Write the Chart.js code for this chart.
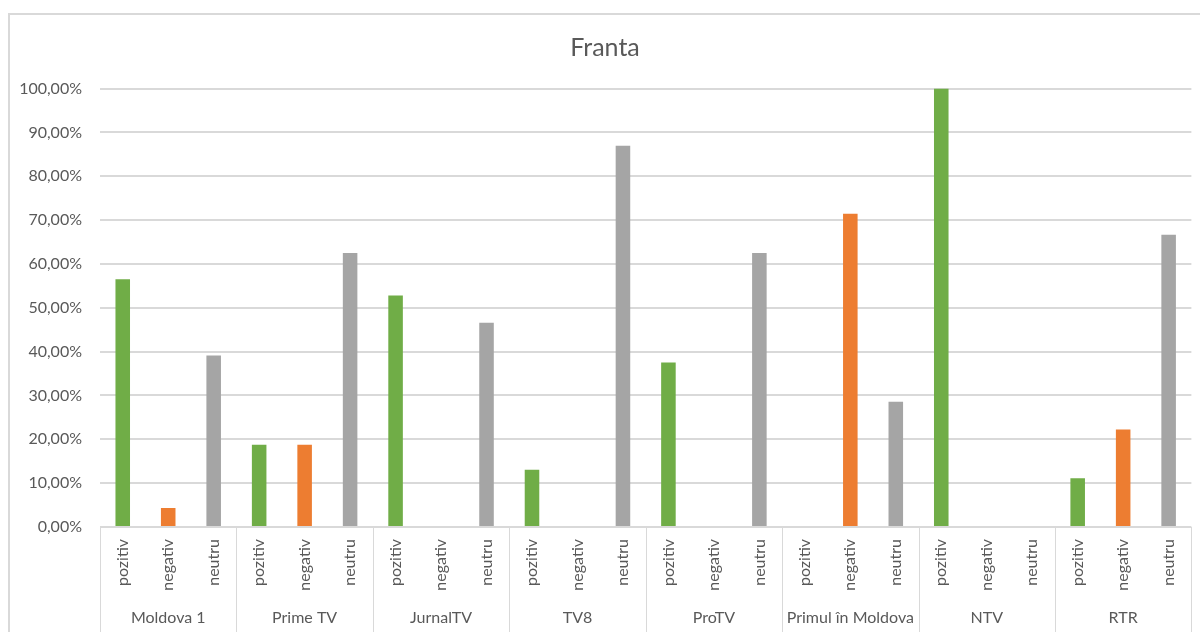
<!DOCTYPE html>
<html>
<head>
<meta charset="utf-8">
<script src="https://cdn.jsdelivr.net/npm/chart.js@4.4.1/dist/chart.umd.min.js"></script>
<style>
  body { margin: 0; background: #fff; }
  canvas { display: block; }
</style>
</head>
<body>
<canvas id="myChart" width="1200" height="632"></canvas>
<script>
const channels = ['Moldova 1', 'Prime TV', 'JurnalTV', 'TV8', 'ProTV', 'Primul în Moldova', 'NTV', 'RTR'];
const sentiments = ['pozitiv', 'negativ', 'neutru'];
const pozitiv = [56.52, 18.75, 52.8, 13.04, 37.5, 0, 100, 11.11];
const negativ = [4.35, 18.75, 0, 0, 0, 71.43, 0, 22.22];
const neutru = [39.13, 62.5, 46.6, 86.96, 62.5, 28.57, 0, 66.67];
const sentimentColors = ['#70AD47', '#ED7D31', '#A5A5A5'];

const textColor = '#595959';
const lineColor = '#D9D9D9';
const fontFamily = 'Lato, "Open Sans", sans-serif';

// flatten to one bar per channel/sentiment pair
const labels = [];
const values = [];
const colors = [];
const series = [pozitiv, negativ, neutru];
for (let c = 0; c < channels.length; c++) {
    for (let s = 0; s < sentiments.length; s++) {
        labels.push(sentiments[s]);
        values.push(series[s][c]);
        colors.push(sentimentColors[s]);
    }
}

const frame = {
    id: 'frame',
    beforeDraw(chart) {
        const ctx = chart.ctx;
        ctx.save();
        ctx.fillStyle = '#fff';
        ctx.fillRect(0, 0, chart.width, chart.height);
        ctx.strokeStyle = lineColor;
        ctx.lineWidth = 2;
        ctx.beginPath();
        ctx.moveTo(9, chart.height);
        ctx.lineTo(9, 14);
        ctx.lineTo(chart.width, 14);
        ctx.stroke();
        ctx.restore();
    }
};

const groups = {
    id: 'groups',
    afterDraw(chart) {
        const ctx = chart.ctx;
        const x = chart.scales.x;
        const step = x.getPixelForValue(1) - x.getPixelForValue(0);
        const n = sentiments.length;
        ctx.save();
        ctx.strokeStyle = lineColor;
        ctx.lineWidth = 1;
        for (let i = 0; i <= channels.length; i++) {
            const px = Math.round(x.getPixelForValue(i * n) - step / 2) + 0.5;
            ctx.beginPath();
            ctx.moveTo(px, x.top);
            ctx.lineTo(px, chart.height);
            ctx.stroke();
        }
        ctx.fillStyle = textColor;
        ctx.font = '16px ' + fontFamily;
        ctx.textAlign = 'center';
        ctx.textBaseline = 'middle';
        for (let i = 0; i < channels.length; i++) {
            ctx.fillText(channels[i], x.getPixelForValue(i * n + 1), 618);
        }
        ctx.restore();
    }
};

new Chart(document.getElementById('myChart'), {
    type: 'bar',
    data: {
        labels: labels,
        datasets: [{
            data: values,
            backgroundColor: colors,
            borderWidth: 0,
            barPercentage: 0.32,
            categoryPercentage: 1
        }]
    },
    options: {
        responsive: false,
        animation: false,
        layout: { padding: { left: 18, right: 8, top: 14, bottom: 0 } },
        plugins: {
            legend: { display: false },
            tooltip: { enabled: false },
            title: {
                display: true,
                text: 'Franta',
                color: textColor,
                font: { family: fontFamily, size: 25, weight: 'normal' },
                padding: { top: 19, bottom: 25.5 }
            }
        },
        scales: {
            x: {
                grid: { display: false, drawTicks: false },
                border: { display: false },
                ticks: {
                    color: textColor,
                    font: { family: fontFamily, size: 16 },
                    minRotation: 90,
                    maxRotation: 90,
                    autoSkip: false,
                    padding: 12
                },
                afterFit(scale) { scale.height = 105; }
            },
            y: {
                min: 0,
                max: 100,
                grid: { color: lineColor, lineWidth: 2, drawTicks: false },
                border: { display: false },
                ticks: {
                    stepSize: 10,
                    color: textColor,
                    font: { family: fontFamily, size: 16 },
                    padding: 18,
                    callback: v => v.toFixed(2).replace('.', ',') + '%'
                },
                afterFit(scale) { scale.width = 82; }
            }
        }
    },
    plugins: [frame, groups]
});
</script>
</body>
</html>
